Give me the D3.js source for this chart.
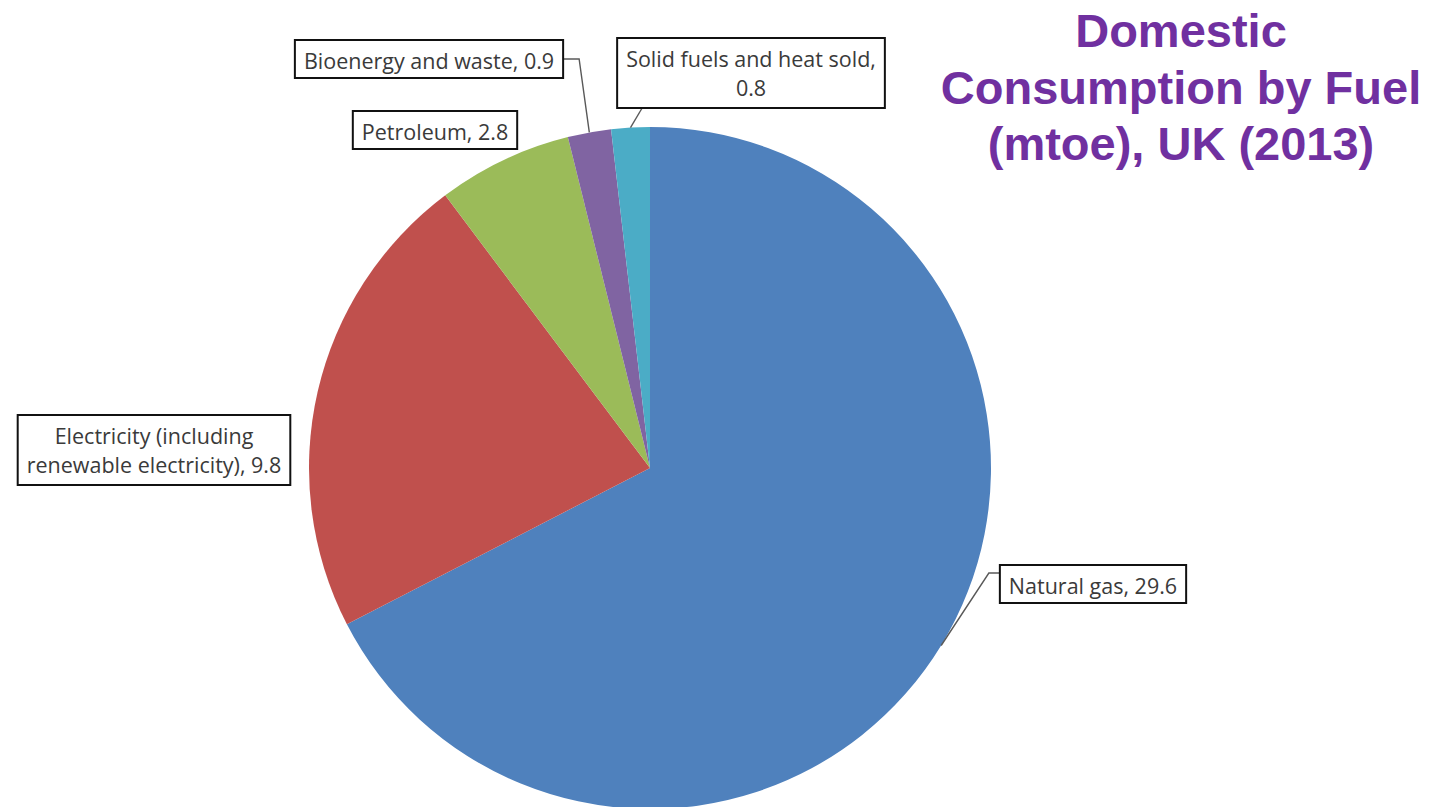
<!DOCTYPE html>
<html>
<head>
<meta charset="utf-8">
<script src="https://cdn.jsdelivr.net/npm/d3@7"></script>
<style>
  html, body { margin: 0; padding: 0; background: #ffffff; }
  svg { display: block; }
</style>
</head>
<body>
<svg id="chart" width="1432" height="807"></svg>
<script>
// Domestic consumption by fuel, UK 2013 (mtoe)
const categories = [
  "Natural gas",
  "Electricity (including renewable electricity)",
  "Petroleum",
  "Bioenergy and waste",
  "Solid fuels and heat sold"
];
const values = [29.6, 9.8, 2.8, 0.9, 0.8];
const colors = ["#4F81BD", "#C0504D", "#9BBB59", "#8064A2", "#4BACC6"];
const titleLines = ["Domestic", "Consumption by Fuel", "(mtoe), UK (2013)"];

// Label box placement: centre x, top y, words on first line (0 = single line),
// and leader style.
const labelLayout = [
  { cx: 1093, top: 565, firstLine: 0, leader: "left" },
  { cx: 154,  top: 415, firstLine: 2, leader: null },
  { cx: 435,  top: 111, firstLine: 0, leader: null },
  { cx: 429,  top: 40,  firstLine: 0, leader: "right" },
  { cx: 751,  top: 38,  firstLine: 5, leader: "bottom" }
];

const svg = d3.select("#chart");
const cx = 650, cy = 468, radius = 341;

const pie = d3.pie().sort(null).value(d => d.value).startAngle(0).endAngle(2 * Math.PI);
const arc = d3.arc().innerRadius(0).outerRadius(radius);

const data = categories.map((c, i) => ({ name: c, value: values[i], color: colors[i], layout: labelLayout[i] }));
const arcs = pie(data);

const g = svg.append("g").attr("transform", `translate(${cx},${cy})`);
g.selectAll("path.slice")
  .data(arcs)
  .enter().append("path")
  .attr("class", "slice")
  .attr("d", arc)
  .attr("fill", d => d.data.color);

// Data labels with boxed text and leader lines
const fontSize = 21.5, lineH = 29, padX = 9, padY = 7;
const labels = svg.append("g");

arcs.forEach(a => {
  const lay = a.data.layout;
  const text = a.data.name + ", " + a.data.value;
  const words = text.split(" ");
  const lines = lay.firstLine > 0
    ? [words.slice(0, lay.firstLine).join(" "), words.slice(lay.firstLine).join(" ")]
    : [text];

  const grp = labels.append("g");
  const rect = grp.append("rect")
    .attr("fill", "#ffffff")
    .attr("stroke", "#111111")
    .attr("stroke-width", 2);

  const t = grp.append("text")
    .attr("font-family", "'Open Sans', 'Noto Sans', sans-serif")
    .attr("font-size", fontSize)
    .attr("fill", "#3a3a3a")
    .attr("text-anchor", "middle");
  lines.forEach((ln, i) => {
    t.append("tspan")
      .attr("x", lay.cx)
      .attr("y", lay.top + padY + 22 + i * lineH)
      .text(ln);
  });

  const bb = t.node().getBBox();
  const w = bb.width + 2 * padX;
  const h = lines.length === 1 ? 38 : 70;
  const x0 = lay.cx - w / 2, y0 = lay.top;
  rect.attr("x", x0).attr("y", y0).attr("width", w).attr("height", h);

  // Leader line from slice edge at its mid-angle
  if (lay.leader) {
    const mid = (a.startAngle + a.endAngle) / 2;
    const px = cx + radius * Math.sin(mid);
    const py = cy - radius * Math.cos(mid);
    let pts;
    if (lay.leader === "right") {
      const ey = y0 + h / 2;
      pts = [[x0 + w, ey], [x0 + w + 16, ey], [px, py]];
    } else if (lay.leader === "left") {
      const ey = y0 + 8;
      pts = [[x0, ey], [x0 - 11, ey], [px, py]];
    } else {
      pts = [[x0 + 25, y0 + h], [px, py]];
    }
    labels.insert("path", ":first-child")
      .attr("d", d3.line()(pts))
      .attr("fill", "none")
      .attr("stroke", "#595959")
      .attr("stroke-width", 1.4);
  }
});

// Title
const title = svg.append("text")
  .attr("font-family", "'Liberation Sans', Arial, sans-serif")
  .attr("font-weight", "bold")
  .attr("font-size", 47)
  .attr("fill", "#7030A0")
  .attr("text-anchor", "middle");
titleLines.forEach((ln, i) => {
  title.append("tspan").attr("x", 1181).attr("y", 47 + i * 56.5).text(ln);
});
</script>
</body>
</html>
